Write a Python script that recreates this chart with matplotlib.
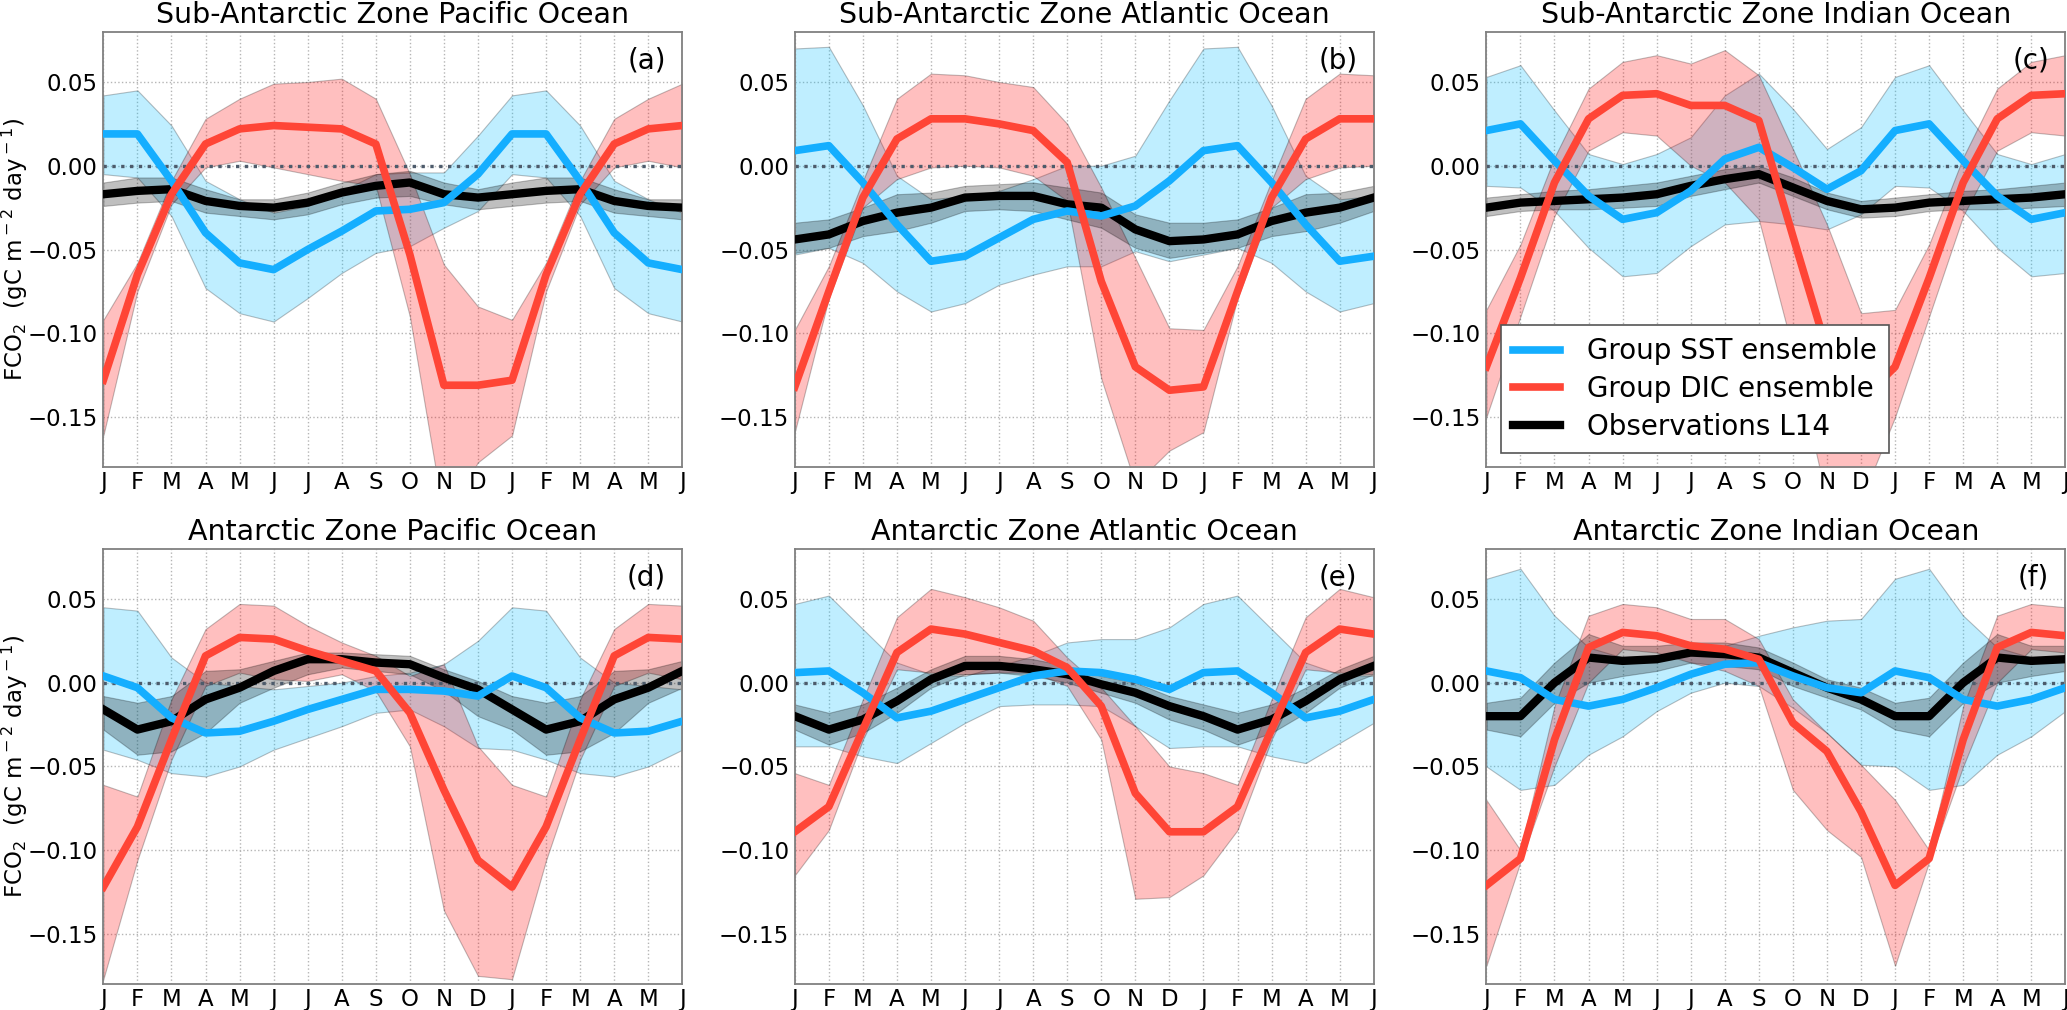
import numpy as np
import matplotlib
matplotlib.use('Agg')
import matplotlib.pyplot as plt

# month axis runs Jan..Dec then Jan..Jun again
months = ['J', 'F', 'M', 'A', 'M', 'J', 'J', 'A', 'S', 'O', 'N', 'D',
          'J', 'F', 'M', 'A', 'M', 'J']
titles = ['Sub-Antarctic Zone Pacific Ocean', 'Sub-Antarctic Zone Atlantic Ocean',
          'Sub-Antarctic Zone Indian Ocean', 'Antarctic Zone Pacific Ocean',
          'Antarctic Zone Atlantic Ocean', 'Antarctic Zone Indian Ocean']
tags = ['(a)', '(b)', '(c)', '(d)', '(e)', '(f)']
names = ['Group SST ensemble', 'Group DIC ensemble', 'Observations L14']

# monthly climatology J..D for each panel (a..f)
sst_mean = [
    [0.019, 0.019, -0.009, -0.040, -0.058, -0.062, -0.050, -0.039, -0.027, -0.026, -0.022, -0.005],
    [0.009, 0.012, -0.010, -0.035, -0.057, -0.054, -0.043, -0.032, -0.027, -0.030, -0.024, -0.009],
    [0.021, 0.025, 0.003, -0.018, -0.032, -0.028, -0.015, 0.004, 0.011, -0.001, -0.014, -0.003],
    [0.004, -0.003, -0.021, -0.030, -0.029, -0.023, -0.016, -0.010, -0.004, -0.004, -0.005, -0.008],
    [0.006, 0.007, -0.006, -0.021, -0.017, -0.010, -0.003, 0.004, 0.007, 0.006, 0.002, -0.004],
    [0.007, 0.003, -0.010, -0.014, -0.010, -0.003, 0.005, 0.011, 0.012, 0.004, -0.003, -0.006],
]
sst_hi = [
    [0.042, 0.045, 0.024, -0.009, -0.020, -0.028, -0.024, -0.015, -0.005, -0.004, -0.004, 0.018],
    [0.070, 0.071, 0.036, -0.006, -0.020, -0.018, -0.015, -0.008, 0.000, 0.000, 0.006, 0.039],
    [0.053, 0.060, 0.033, 0.007, 0.001, 0.007, 0.017, 0.042, 0.055, 0.034, 0.010, 0.023],
    [0.045, 0.043, 0.015, 0.000, -0.002, -0.004, -0.002, 0.000, 0.004, 0.006, 0.011, 0.025],
    [0.047, 0.052, 0.032, 0.012, 0.005, 0.004, 0.010, 0.016, 0.024, 0.026, 0.026, 0.033],
    [0.062, 0.068, 0.040, 0.021, 0.015, 0.015, 0.018, 0.022, 0.028, 0.033, 0.037, 0.038],
]
sst_lo = [
    [-0.005, -0.007, -0.030, -0.073, -0.088, -0.093, -0.079, -0.064, -0.052, -0.048, -0.037, -0.027],
    [-0.053, -0.049, -0.058, -0.075, -0.087, -0.082, -0.071, -0.065, -0.060, -0.060, -0.051, -0.057],
    [-0.012, -0.013, -0.027, -0.049, -0.066, -0.064, -0.048, -0.035, -0.033, -0.035, -0.038, -0.029],
    [-0.040, -0.046, -0.054, -0.056, -0.050, -0.040, -0.033, -0.026, -0.018, -0.016, -0.026, -0.039],
    [-0.038, -0.038, -0.044, -0.048, -0.036, -0.024, -0.014, -0.013, -0.013, -0.014, -0.026, -0.039],
    [-0.050, -0.064, -0.061, -0.043, -0.032, -0.017, -0.006, 0.000, -0.002, -0.015, -0.030, -0.049],
]
dic_mean = [
    [-0.128, -0.065, -0.017, 0.013, 0.022, 0.024, 0.023, 0.022, 0.013, -0.053, -0.131, -0.131],
    [-0.132, -0.075, -0.019, 0.016, 0.028, 0.028, 0.025, 0.021, 0.002, -0.069, -0.120, -0.134],
    [-0.120, -0.067, -0.010, 0.028, 0.042, 0.043, 0.036, 0.036, 0.027, -0.042, -0.110, -0.140],
    [-0.122, -0.086, -0.034, 0.016, 0.027, 0.026, 0.019, 0.013, 0.007, -0.018, -0.064, -0.106],
    [-0.089, -0.074, -0.028, 0.018, 0.032, 0.029, 0.024, 0.019, 0.009, -0.014, -0.066, -0.089],
    [-0.121, -0.105, -0.034, 0.021, 0.030, 0.028, 0.022, 0.020, 0.014, -0.024, -0.041, -0.077],
]
dic_hi = [
    [-0.092, -0.058, -0.009, 0.028, 0.040, 0.049, 0.050, 0.052, 0.040, -0.005, -0.059, -0.084],
    [-0.098, -0.060, -0.009, 0.040, 0.055, 0.054, 0.050, 0.047, 0.025, -0.013, -0.055, -0.097],
    [-0.086, -0.047, 0.005, 0.046, 0.062, 0.066, 0.061, 0.069, 0.054, 0.010, -0.035, -0.088],
    [-0.061, -0.068, -0.010, 0.032, 0.047, 0.046, 0.034, 0.024, 0.016, 0.004, 0.011, -0.038],
    [-0.054, -0.061, -0.010, 0.039, 0.056, 0.051, 0.045, 0.037, 0.015, -0.003, -0.026, -0.050],
    [-0.070, -0.100, -0.014, 0.040, 0.047, 0.045, 0.038, 0.038, 0.026, -0.010, -0.030, -0.049],
]
dic_lo = [
    [-0.161, -0.075, -0.023, -0.001, 0.003, -0.001, -0.005, -0.009, -0.012, -0.090, -0.210, -0.177],
    [-0.159, -0.079, -0.025, -0.008, -0.001, 0.000, -0.001, -0.006, -0.021, -0.127, -0.190, -0.170],
    [-0.150, -0.090, -0.030, 0.009, 0.020, 0.018, 0.000, -0.010, -0.032, -0.110, -0.200, -0.200],
    [-0.177, -0.106, -0.046, -0.002, 0.006, 0.002, 0.001, 0.005, -0.005, -0.038, -0.136, -0.175],
    [-0.115, -0.088, -0.034, 0.008, 0.006, 0.005, 0.006, 0.006, -0.002, -0.034, -0.129, -0.128],
    [-0.169, -0.107, -0.050, 0.000, 0.020, 0.018, 0.012, 0.007, -0.002, -0.064, -0.088, -0.104],
]
obs_mean = [
    [-0.017, -0.015, -0.014, -0.021, -0.024, -0.025, -0.022, -0.016, -0.012, -0.010, -0.017, -0.019],
    [-0.044, -0.041, -0.033, -0.028, -0.025, -0.019, -0.018, -0.018, -0.023, -0.025, -0.038, -0.045],
    [-0.025, -0.022, -0.021, -0.020, -0.019, -0.017, -0.012, -0.008, -0.005, -0.013, -0.021, -0.026],
    [-0.016, -0.028, -0.023, -0.010, -0.003, 0.007, 0.014, 0.014, 0.012, 0.011, 0.003, -0.004],
    [-0.020, -0.028, -0.022, -0.011, 0.002, 0.010, 0.010, 0.008, 0.005, -0.001, -0.006, -0.014],
    [-0.020, -0.020, 0.000, 0.015, 0.013, 0.014, 0.018, 0.017, 0.015, 0.006, -0.003, -0.010],
]
obs_hi = [
    [-0.010, -0.007, -0.007, -0.014, -0.020, -0.020, -0.016, -0.010, -0.005, -0.003, -0.010, -0.014],
    [-0.034, -0.032, -0.025, -0.017, -0.016, -0.012, -0.011, -0.010, -0.013, -0.016, -0.029, -0.034],
    [-0.019, -0.017, -0.015, -0.014, -0.012, -0.010, -0.006, -0.002, 0.000, -0.007, -0.016, -0.021],
    [-0.008, -0.012, -0.008, 0.007, 0.008, 0.013, 0.018, 0.018, 0.017, 0.016, 0.008, 0.001],
    [-0.013, -0.018, -0.013, -0.003, 0.008, 0.016, 0.016, 0.014, 0.010, 0.004, 0.000, -0.008],
    [-0.012, -0.009, 0.012, 0.029, 0.022, 0.022, 0.024, 0.024, 0.021, 0.012, 0.002, -0.003],
]
obs_lo = [
    [-0.024, -0.022, -0.021, -0.028, -0.030, -0.032, -0.029, -0.023, -0.019, -0.018, -0.023, -0.026],
    [-0.052, -0.049, -0.042, -0.039, -0.034, -0.027, -0.026, -0.027, -0.032, -0.037, -0.049, -0.055],
    [-0.030, -0.027, -0.026, -0.026, -0.025, -0.024, -0.018, -0.014, -0.010, -0.018, -0.026, -0.031],
    [-0.028, -0.043, -0.041, -0.030, -0.012, -0.003, 0.005, 0.009, 0.007, 0.005, -0.005, -0.020],
    [-0.028, -0.037, -0.030, -0.018, -0.003, 0.005, 0.006, 0.004, 0.000, -0.006, -0.012, -0.022],
    [-0.028, -0.032, -0.012, 0.000, 0.004, 0.007, 0.012, 0.010, 0.008, -0.002, -0.009, -0.016],
]


def wrap(v):
    # add Jan..Jun of the following year
    v = np.asarray(v)
    return np.r_[v, v[:6]]


c_sst = '#14aeff'
c_dic = '#ff4536'
c_obs = 'k'

fig = plt.figure(figsize=(20.67, 10.10), dpi=100)
lefts = [0.050, 0.3845, 0.7191]
bottoms = [0.5373, 0.0255]
w = 0.2801
h = 0.4313

x = np.arange(len(months))
for i in range(6):
    row, col = divmod(i, 3)
    ax = fig.add_axes([lefts[col], bottoms[row], w, h])

    ax.fill_between(x, wrap(sst_lo[i]), wrap(sst_hi[i]), facecolor='#00bfff',
                    edgecolor='k', linewidth=0.8, alpha=0.25, zorder=1)
    ax.fill_between(x, wrap(dic_lo[i]), wrap(dic_hi[i]), facecolor='red',
                    edgecolor='k', linewidth=0.8, alpha=0.25, zorder=1)
    ax.fill_between(x, wrap(obs_lo[i]), wrap(obs_hi[i]), facecolor='k',
                    edgecolor='k', linewidth=0.8, alpha=0.25, zorder=1)
    ax.axhline(0, color='#4d5b6b', ls=':', lw=2.4, zorder=2)
    ax.plot(x, wrap(obs_mean[i]), color=c_obs, lw=6, label=names[2], zorder=3)
    ax.plot(x, wrap(sst_mean[i]), color=c_sst, lw=5.5, label=names[0], zorder=4)
    ax.plot(x, wrap(dic_mean[i]), color=c_dic, lw=5.5, label=names[1], zorder=5)

    ax.set_xlim(0, len(months) - 1)
    ax.set_ylim(-0.18, 0.08)
    ax.set_xticks(x)
    ax.set_xticklabels(months)
    ax.set_yticks([-0.15, -0.10, -0.05, 0.0, 0.05])
    ax.tick_params(length=0, labelsize=16.5)
    ax.tick_params(axis='y', pad=4)
    ax.tick_params(axis='x', pad=3)
    ax.grid(True, ls=':', color='#b5b5b5', lw=1)
    ax.set_axisbelow(True)
    for s in ax.spines.values():
        s.set_color('#808080')
        s.set_linewidth(1.3)
    ax.set_title(titles[i], fontsize=20.5, pad=6.5)
    ax.text(0.972, 0.966, tags[i], transform=ax.transAxes, ha='right',
            va='top', fontsize=20)
    if col == 0:
        ax.set_ylabel(r'FCO$_2$  (gC m$^-$$^2$ day$^-$$^1$)', fontsize=16.5)
        ax.yaxis.set_label_coords(-0.127, 0.5)
    if i == 2:
        hs, ls = ax.get_legend_handles_labels()
        order = [1, 2, 0]
        leg = ax.legend([hs[k] for k in order], [ls[k] for k in order],
                        loc='lower left', bbox_to_anchor=(0.0244, 0.032),
                        borderaxespad=0, fontsize=20, fancybox=False,
                        framealpha=1, handlelength=1.68, handletextpad=0.97,
                        borderpad=0.45, labelspacing=0.35)
        leg.get_frame().set_edgecolor('#555555')
        leg.get_frame().set_linewidth(1.2)
        leg.set_zorder(10)

fig.savefig('out.png', dpi=100)
